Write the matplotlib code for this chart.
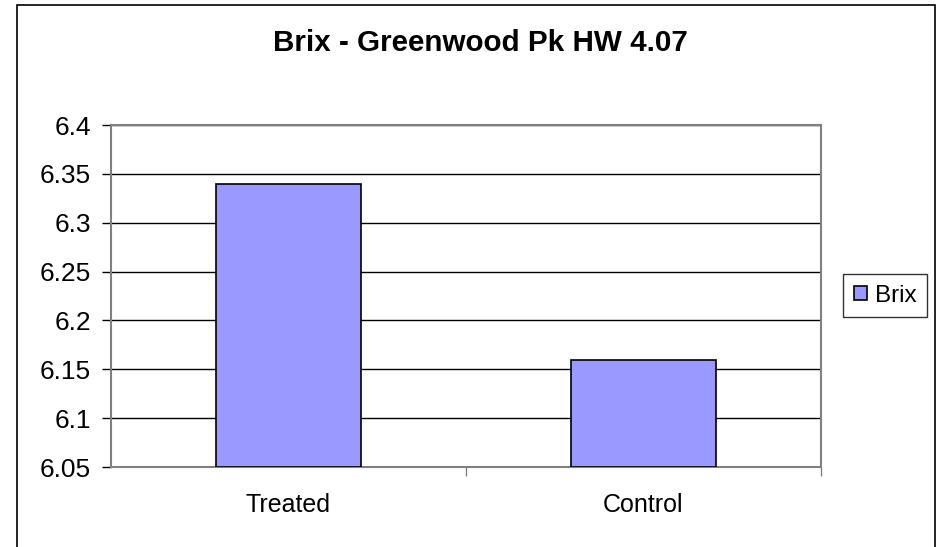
import numpy as np
import matplotlib.pyplot as plt
from matplotlib.patches import Rectangle

plt.rcParams['font.family'] = ['Liberation Sans', 'DejaVu Sans']

categories = ['Treated', 'Control']
brix = [6.34, 6.16]
yticks = [6.05, 6.1, 6.15, 6.2, 6.25, 6.3, 6.35, 6.4]

W, H = 937, 547
fig = plt.figure(figsize=(W / 100, H / 100), dpi=100)

# outer chart border (bottom edge runs off the image)
fig.patches.append(Rectangle((17 / W, -0.02), (935 - 17) / W, 1 - 5 / H + 0.02,
                             transform=fig.transFigure, fill=False,
                             edgecolor='black', linewidth=1.2))

# plot area in pixel coords
left, right, top, bottom = 111, 821, 125, 467
ax = fig.add_axes([left / W, 1 - bottom / H, (right - left) / W, (bottom - top) / H])

x = np.arange(len(categories))
ax.bar(x, [v - 6.05 for v in brix], bottom=6.05, width=0.41,
       color='#9999ff', edgecolor='black', linewidth=1.2, zorder=3, label='Brix')

ax.set_xlim(-0.5, 1.5)
ax.set_ylim(6.05, 6.4)
ax.set_yticks(yticks)
ax.set_yticklabels(['6.05', '6.1', '6.15', '6.2', '6.25', '6.3', '6.35', '6.4'])
ax.yaxis.grid(True, color='black', linewidth=1)
ax.set_axisbelow(True)

ax.set_xticks(x)
ax.set_xticklabels(categories)
ax.set_xticks([0.5, 1.5], minor=True)
ax.tick_params(axis='x', which='major', length=0, pad=19, labelsize=18)
ax.tick_params(axis='x', which='minor', length=6.5, width=1, color='#808080')
ax.tick_params(axis='y', length=6.5, width=1, labelsize=19, pad=8)

for s in ['top', 'right', 'left', 'bottom']:
    ax.spines[s].set_color('#808080')
    ax.spines[s].set_linewidth(1.5)

fig.text(480 / W, 1 - 43 / H, 'Brix - Greenwood Pk HW 4.07', ha='center', va='center',
         fontsize=21.3, fontweight='bold')

leg = fig.legend(loc='center', bbox_to_anchor=(885 / W, 1 - 295.5 / H), fontsize=17.5,
                 frameon=True, fancybox=False, handlelength=0.55, handleheight=0.55,
                 handletextpad=0.3, borderpad=0.45, borderaxespad=0)
leg.get_frame().set_edgecolor('black')
leg.get_frame().set_linewidth(1)

fig.savefig('out.png', dpi=100)
